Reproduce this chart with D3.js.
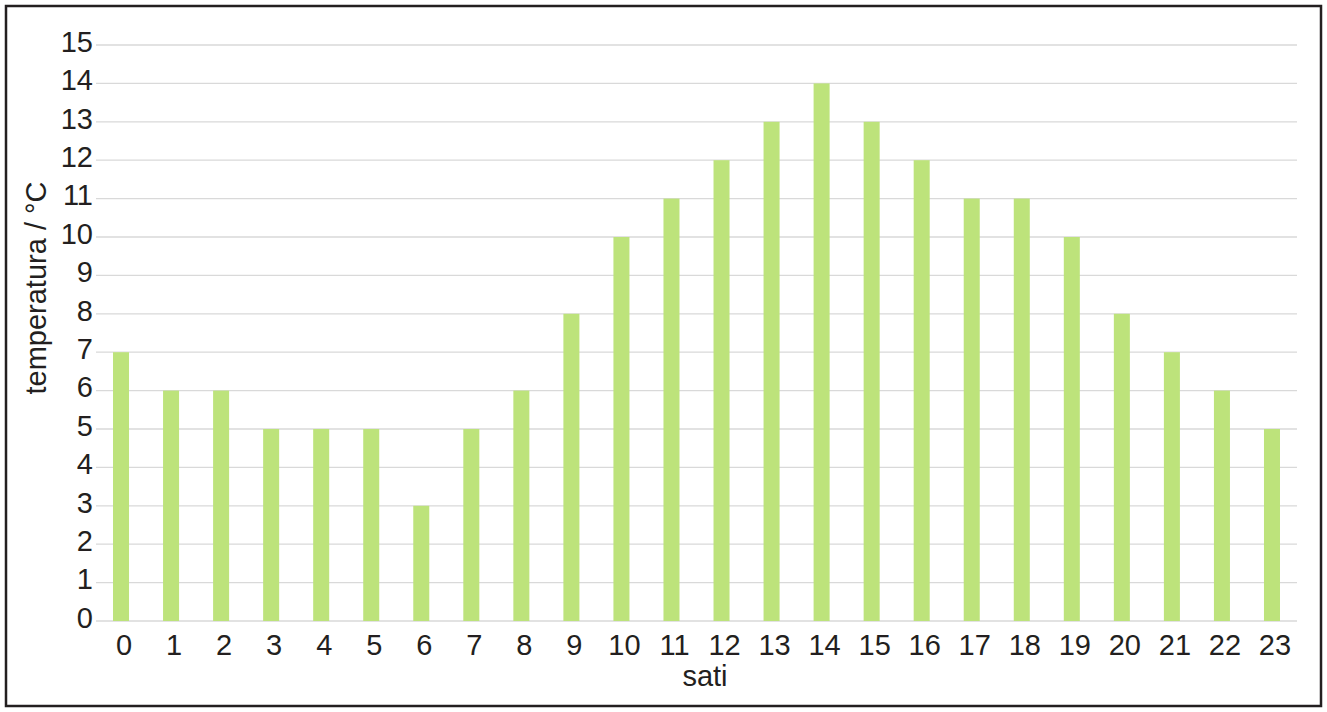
<!DOCTYPE html>
<html>
<head>
<meta charset="utf-8">
<script src="https://cdn.jsdelivr.net/npm/d3@7"></script>
<style>
  body { margin: 0; background: #fff; }
  svg text { font-family: "Liberation Sans", Arial, sans-serif; fill: #231f20; }
</style>
</head>
<body>
<div id="chart"></div>
<script>
const hours = d3.range(0, 24).map(String);
const temps = [7, 6, 6, 5, 5, 5, 3, 5, 6, 8, 10, 11, 12, 13, 14, 13, 12, 11, 11, 10, 8, 7, 6, 5];
const yTicks = d3.range(0, 16);

const W = 1327, H = 712;
const margin = { left: 96, right: 30, top: 45, bottom: 91 };
const width = W - margin.left - margin.right;
const height = H - margin.top - margin.bottom;
const fontSize = '29px';

const svg = d3.select('#chart').append('svg')
  .attr('width', W)
  .attr('height', H);

// outer frame
svg.append('rect')
  .attr('x', 6).attr('y', 6)
  .attr('width', W - 12).attr('height', H - 12)
  .attr('fill', 'none')
  .attr('stroke', '#231f20')
  .attr('stroke-width', 2.5);

const g = svg.append('g')
  .attr('transform', 'translate(' + margin.left + ',' + margin.top + ')');

const x = d3.scaleBand().domain(hours).range([0, width]).paddingInner(0.68).paddingOuter(0.34);
const y = d3.scaleLinear().domain([0, 15]).range([height, 0]);

// gridlines
g.append('g')
  .selectAll('line')
  .data(yTicks)
  .join('line')
  .attr('x1', 0).attr('x2', width)
  .attr('y1', d => y(d)).attr('y2', d => y(d))
  .attr('stroke', '#d9d9d9')
  .attr('stroke-width', 1.3);

// bars
g.append('g')
  .selectAll('rect')
  .data(temps)
  .join('rect')
  .attr('x', (d, i) => x(hours[i]))
  .attr('y', d => y(d))
  .attr('width', x.bandwidth())
  .attr('height', d => y(0) - y(d))
  .attr('fill', '#bde37b');

// y axis labels
const yAxis = g.append('g')
  .call(d3.axisLeft(y).tickValues(yTicks).tickSize(0).tickPadding(3));
yAxis.select('.domain').remove();
yAxis.selectAll('text')
  .attr('font-size', fontSize)
  .attr('dy', '0.22em');

// x axis labels
const xAxis = g.append('g')
  .attr('transform', 'translate(0,' + height + ')')
  .call(d3.axisBottom(x).tickSize(0).tickPadding(13));
xAxis.select('.domain').remove();
xAxis.selectAll('text')
  .attr('font-size', fontSize)
  .attr('dx', 3);

// axis titles
svg.append('text')
  .attr('x', 705)
  .attr('y', 686)
  .attr('text-anchor', 'middle')
  .attr('font-size', fontSize)
  .text('sati');

svg.append('text')
  .attr('transform', 'translate(46,288) rotate(-90)')
  .attr('text-anchor', 'middle')
  .attr('font-size', fontSize)
  .text('temperatura / °C');
</script>
</body>
</html>
